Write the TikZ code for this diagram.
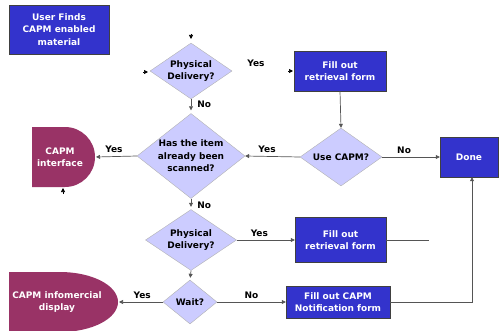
\documentclass[tikz,border=0pt]{standalone}
\usepackage{fontspec}
\setmainfont{DejaVu Sans}
\usetikzlibrary{arrows.meta,shapes.geometric,calc}
\definecolor{boxblue}{RGB}{51,51,204}
\definecolor{decfill}{RGB}{204,204,255}
\definecolor{plum}{RGB}{153,51,102}
\definecolor{wire}{RGB}{85,85,85}
\tikzset{
	txt/.style={font=\fontsize{9}{12.5}\selectfont\bfseries, align=center, inner sep=0pt},
	proc/.style={txt, draw=black!75, fill=boxblue, text=white},
	decision/.style={txt, diamond, draw=black!30, fill=decfill},
	term/.style={txt, text=white},
	lbl/.style={txt},
	flow/.style={draw=wire, line width=0.7pt, -{Triangle[length=4pt,width=4pt]}},
	stub/.style={draw=black, line width=0.7pt, -{Triangle[length=4pt,width=4pt]}}
}

\begin{document}
\begin{tikzpicture}[x=1pt, y=1pt]
			%%%%% START %%%%%
			\useasboundingbox (0, 0) rectangle (500, 330);
			
			\node[proc, minimum width=100pt, minimum height=49pt] (start) at (59, 300.5) {User Finds\\CAPM enabled\\material};
			
			\node[decision, minimum width=82pt, minimum height=56pt, aspect=1.46] (deliv1) at (191, 259) {Physical\\Delivery?};
			\node[proc, minimum width=92pt, minimum height=40pt] (form1) at (340, 259) {Fill out\\retrieval form};
			
			\node[decision, minimum width=108pt, minimum height=85pt, aspect=1.27] (scanned) at (191, 174) {Has the item\\already been\\scanned?};
			\node[decision, minimum width=82pt, minimum height=58pt, aspect=1.41] (usecapm) at (341, 173) {Use CAPM?};
			\node[proc, minimum width=58pt, minimum height=40pt] (done) at (469, 173) {Done};
			
			\node[decision, minimum width=91pt, minimum height=61pt, aspect=1.49] (deliv2) at (191, 90) {Physical\\Delivery?};
			\node[proc, minimum width=91pt, minimum height=45pt] (form2) at (340.5, 90) {Fill out\\retrieval form};
			
			\node[decision, minimum width=54pt, minimum height=44pt, aspect=1.23] (wait) at (190, 28) {Wait?};
			\node[proc, minimum width=104pt, minimum height=32pt] (notify) at (338, 28) {Fill out CAPM\\Notification form};
			
			% purple end shapes
			\fill[plum] (32, 203) -- (65, 203) arc[start angle=90, end angle=-90, radius=30pt] -- (32, 143) -- cycle;
			\node[term] (iface) at (60, 173) {CAPM\\interface};
			\coordinate (iface-r) at (96, 173);
			
			\fill[plum] (9, 58) -- (60, 58) arc[start angle=90, end angle=-90, x radius=58pt, y radius=30pt] -- (9, -2) -- cycle;
			\node[term] (promo) at (57, 28) {CAPM infomercial\\display};
			\coordinate (promo-r) at (119, 28);
			
			% loose arrow tips
			\coordinate (tipA) at (191, 296);
			\coordinate (tipB) at (143, 258);
			\coordinate (tipC) at (288, 259);
			\coordinate (tipD) at (63, 136);
			\draw[stub] (tipA) -- ++(0, -5);
			\draw[stub] (tipB) -- ++(5, 0);
			\draw[stub] (tipC) -- ++(5, 0);
			\draw[stub] (tipD) -- ++(0, 6);
			\node[lbl] (yes1) at (256, 267) {Yes};
			
			% connectors
			\draw[flow, shorten >=3pt] (deliv1.south) -- node[lbl, right=6pt, pos=0.34] (no1) {No} (scanned.north);
			\draw[flow] (form1.south) -- (usecapm.north);
			\draw[flow] (usecapm.west) -- node[lbl, above=3.5pt, pos=0.6] (yes2) {Yes} (scanned.east);
			\draw[flow] (usecapm.east) -- node[lbl, above=3.5pt, pos=0.38] (no2) {No} (done.west);
			\draw[flow] (scanned.west) -- node[lbl, above=3.5pt, pos=0.56] (yes3) {Yes} (iface-r);
			\draw[flow, shorten >=2.5pt] (scanned.south) -- node[lbl, right=6pt, pos=0.6] (no3) {No} (deliv2.north);
			\draw[flow] (deliv2.east) -- node[lbl, above=3.5pt, pos=0.39] (yes4) {Yes} (form2.west);
			\draw[wire, line width=0.7pt] (form2.east) -- ++(43, 0);
			\draw[flow, shorten >=2pt] (deliv2.south) -- (wait.north);
			\draw[flow] (wait.west) -- node[lbl, above=3.5pt, pos=0.47] (yes5) {Yes} (promo-r);
			\draw[flow] (wait.east) -- node[lbl, above=3.5pt, pos=0.5] (no4) {No} (notify.west);
			\draw[flow] (notify.east) -| ($(done.south)+(3, 0)$);
			
			%%%%% END %%%%%
\end{tikzpicture}
\end{document}
